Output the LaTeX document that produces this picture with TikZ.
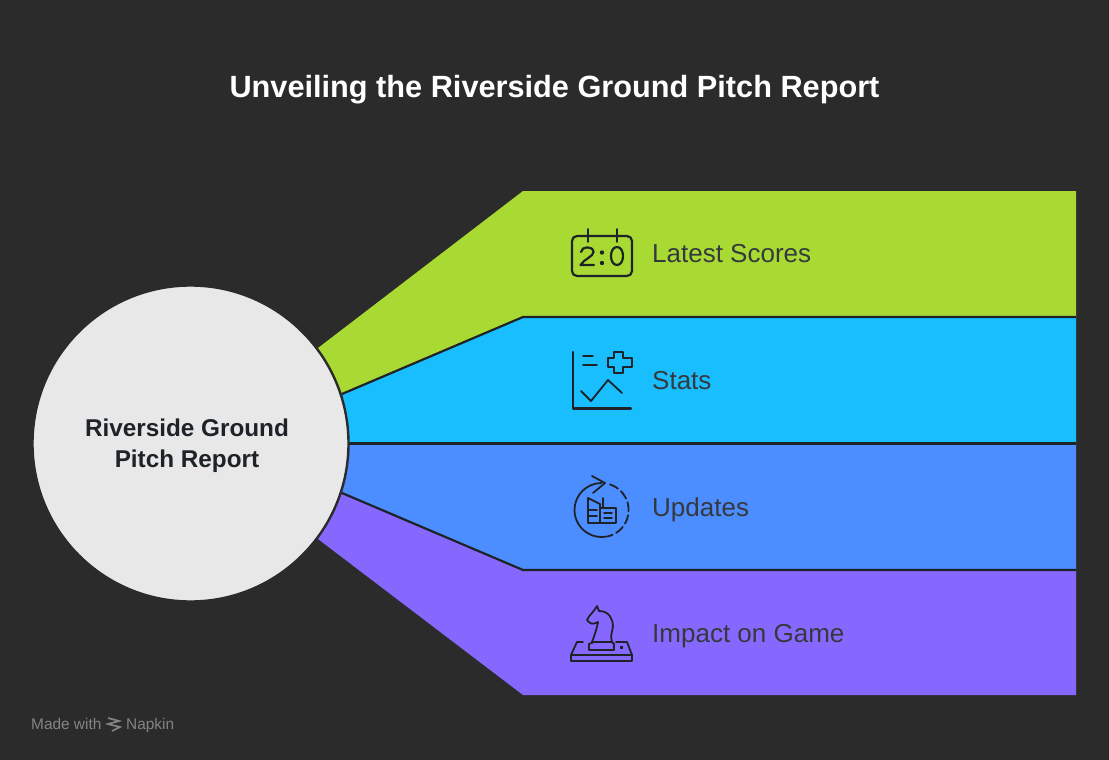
\documentclass[tikz,border=0pt]{standalone}
\usepackage{fontspec}
\setmainfont{Liberation Sans}
\definecolor{bgc}{HTML}{2B2B2B}
\definecolor{inkc}{HTML}{1E2328}
\definecolor{bandA}{HTML}{A9DA33}
\definecolor{bandB}{HTML}{19BEFE}
\definecolor{bandC}{HTML}{4C8DFF}
\definecolor{bandD}{HTML}{8768FF}
\definecolor{hub}{HTML}{E8E8E8}
\tikzset{
 band/.style={draw=inkc,line width=2.2pt,line join=round},
 lbl/.style={font=\fontsize{26}{30}\selectfont,text=inkc!90!white,anchor=base west,inner sep=0pt},
 ico/.style={draw=inkc,line width=2.2pt,line cap=round,line join=round},
 icon/.style={ico,line width=1.8pt},
 wmark/.style={text=white!42!bgc,font=\fontsize{15.4}{16}\selectfont,anchor=base west,inner sep=0pt},
}
\begin{document}
\begin{tikzpicture}[x=1pt,y=-1pt]
\useasboundingbox (0,0) rectangle (1109,760);
\fill[bgc] (0,0) rectangle (1109,760);
\node[text=white,font=\fontsize{30.7}{38}\selectfont\bfseries,inner sep=0pt,anchor=base] (title) at (554.5,98) {Unveiling the Riverside Ground Pitch Report};
% bands
\fill[bandA] (318,348) -- (523,191) -- (1076,191) -- (1076,317) -- (523,317) -- (342,394) -- cycle;
\fill[bandB] (342,394) -- (523,317) -- (1076,317) -- (1076,443.5) -- (349,443.5) -- cycle;
\fill[bandC] (349,443.5) -- (1076,443.5) -- (1076,570) -- (523,570) -- (342,493) -- cycle;
\fill[bandD] (342,493) -- (523,570) -- (1076,570) -- (1076,695) -- (523,695) -- (318,539) -- cycle;
\draw[band] (342,394) -- (523,317) -- (1076,317);
\draw[band] (349,443.5) -- (1076,443.5);
\draw[band] (342,493) -- (523,570) -- (1076,570);
% hub
\node[circle,fill=hub,draw=bgc,line width=2.4pt,minimum size=316pt,inner sep=0pt] (hubnode) at (190.5,443.5) {};
\node[align=center,text=inkc,font=\fontsize{24.3}{31}\selectfont\bfseries,inner sep=0pt] (hubtext) at (187,446) {Riverside Ground\\Pitch Report};
% labels
\node[lbl] (l1) at (652,262.5) {Latest Scores};
\node[lbl] (l2) at (652,389) {Stats};
\node[lbl] (l3) at (652,516) {Updates};
\node[lbl] (l4) at (652,642.5) {Impact on Game};
% icon 1
\draw[ico] (577,236) -- (627,236) arc (-90:0:5) -- (632,271) arc (0:90:5) -- (577,276) arc (90:180:5) -- (572,241) arc (180:270:5) -- cycle;
\draw[icon] (588,229) -- (588,242);
\draw[icon] (617,229) -- (617,242);
\draw[ico] (581,252) .. controls (581.5,246) and (593,245.5) .. (593.5,252) .. controls (593.5,256.5) and (584,259) .. (580.5,265) -- (594,265);
\draw[ico] (617,247) .. controls (609,247) and (609,265) .. (617,265) .. controls (625,265) and (625,247) .. (617,247) -- cycle;
\fill[inkc] (602,252.5) circle (2.2) (602,263) circle (2.2);
% icon 2
\draw[ico] (573,352) -- (573,408.5) -- (631,408.5);
\draw[icon] (583,356) -- (593,356) (583,365) -- (597,365);
\draw[ico] (614,352) -- (623,352) -- (623,358) -- (632,358) -- (632,367) -- (623,367) -- (623,373) -- (614,373) -- (614,367) -- (608,367) -- (608,358) -- (614,358) -- cycle;
\draw[icon] (581,391) -- (591,401) -- (608,380) -- (622,393);
% icon 3
\draw[icon] (601.5,483) arc (-90:-280:27);
\draw[icon,dash pattern=on 9pt off 4pt] (610,484.4) arc (-72:78:27);
\draw[icon] (592,476) -- (605,483) -- (593,493);
\draw[icon] (588,498) -- (588,523) -- (616,523) -- (616,508) -- (600,508);
\draw[icon] (588,498) -- (600,504) -- (600,523);
\draw[icon] (603,498) -- (603,508);
\draw[icon] (588,510) -- (597,510) (588,516) -- (597,516) (604,513) -- (612,513) (604,518) -- (612,518);
% icon 4
\draw[icon] (583,642) -- (577,642) -- (571,655) -- (571,661) -- (632,661) -- (632,655) -- (627,642) -- (616,642);
\draw[icon] (571,655) -- (632,655);
\draw[icon] (589,650) -- (589,644) -- (594,642) -- (612,642) -- (614,644) -- (614,650) -- cycle;
\draw[icon] (592,642) .. controls (595,634) and (597,628) .. (598,622) .. controls (593,625) and (590,624) .. (587,620) .. controls (589,615) and (594,612) .. (597,606) -- (599,611) .. controls (609,611) and (613,619) .. (613,626) .. controls (612,633) and (610,636) .. (612,642);
\fill[inkc] (620,646) rectangle (623,649);
% watermark
\node[wmark] (made) at (31,729) {Made with};
\draw[white!42!bgc,line width=1.7pt] (108,718) -- (119,721) -- (108,724) -- (120,727) -- (112,731);
\node[wmark] (nap) at (126,729) {Napkin};
\end{tikzpicture}
\end{document}
